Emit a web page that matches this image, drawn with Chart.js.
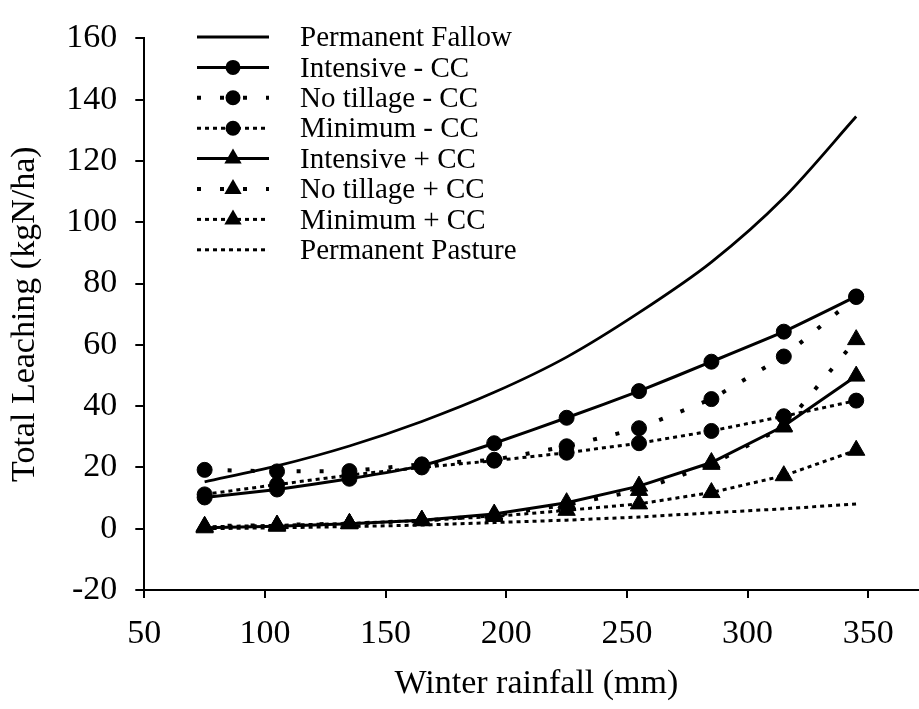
<!DOCTYPE html>
<html>
<head>
<meta charset="utf-8">
<script src="https://cdn.jsdelivr.net/npm/chart.js@4/dist/chart.umd.min.js"></script>
<style>
  html, body { margin: 0; padding: 0; background: #fff; overflow: hidden; }
  #wrap { width: 940px; height: 709px; }
</style>
</head>
<body>
<div id="wrap"><canvas id="chart" width="940" height="709"></canvas></div>
<script>
const rainfall = [75, 105, 135, 165, 195, 225, 255, 285, 315, 345];

const permanentFallow   = [15.3, 20.5, 27.0, 35.0, 44.5, 56.0, 70.5, 87.0, 108.0, 134.5];
const intensiveNoCC     = [10.2, 12.8, 16.3, 20.6, 27.9, 36.2, 44.9, 54.5, 64.3, 75.8];
const noTillageNoCC     = [19.2, 18.7, 18.8, 21.0, 22.5, 26.9, 32.8, 42.3, 56.2, 75.6];
const minimumNoCC       = [11.2, 14.4, 17.5, 20.0, 22.2, 24.8, 27.9, 31.9, 36.7, 41.8];
const intensiveCC       = [0.3, 0.8, 1.6, 2.8, 4.8, 8.5, 13.9, 21.6, 33.5, 49.8];
const noTillageCC       = [0.8, 1.2, 1.7, 2.6, 4.4, 7.8, 12.5, 21.0, 33.2, 61.7];
const minimumCC         = [0.6, 1.1, 1.7, 2.7, 4.0, 6.0, 8.1, 11.8, 17.3, 25.6];
const permanentPasture  = [0.0, 0.3, 0.7, 1.2, 2.0, 2.8, 3.8, 5.2, 6.5, 8.1];

const xTicks = { min: 50, max: 375, step: 50 };
const yTicks = { min: -20, max: 160, step: 20 };

const serif = '"Liberation Serif", "Times New Roman", serif';

function pts(values) {
  return rainfall.map((x, i) => ({ x, y: values[i] }));
}

function series(label, values, dash, marker, width, tension) {
  return {
    label,
    data: pts(values),
    borderColor: '#000',
    backgroundColor: '#000',
    borderWidth: width,
    borderDash: dash,
    pointStyle: marker || 'circle',
    pointRadius: marker ? (marker === 'triangle' ? 10 : 7.5) : 0,
    pointHoverRadius: marker ? (marker === 'triangle' ? 10 : 7.5) : 0,
    pointBorderWidth: 1,
    tension: tension || 0
  };
}

const dotted = [4, 4];
const sparse = [4, 19];

const datasets = [
  series('Permanent Fallow', permanentFallow, [], null, 2.8, 0.3),
  series('Intensive - CC', intensiveNoCC, [], 'circle', 3, 0.15),
  series('No tillage - CC', noTillageNoCC, sparse, 'circle', 4, 0),
  series('Minimum - CC', minimumNoCC, dotted, 'circle', 3, 0),
  series('Intensive + CC', intensiveCC, [], 'triangle', 3, 0),
  series('No tillage + CC', noTillageCC, sparse, 'triangle', 4, 0),
  series('Minimum + CC', minimumCC, dotted, 'triangle', 3, 0),
  series('Permanent Pasture', permanentPasture, dotted, null, 3, 0)
];

// legend with the line sample and the marker in its middle, like the spreadsheet one
const legendRows = {
  id: 'legendRows',
  afterDraw(chart) {
    const ctx = chart.ctx;
    ctx.save();
    chart.data.datasets.forEach((ds, i) => {
      const y = 37 + i * 30.4;
      ctx.strokeStyle = '#000';
      ctx.fillStyle = '#000';
      ctx.lineWidth = ds.borderWidth;
      ctx.setLineDash(ds.borderDash);
      ctx.beginPath();
      ctx.moveTo(197, y);
      ctx.lineTo(269, y);
      ctx.stroke();
      ctx.setLineDash([]);
      const cx = 233;
      if (ds.pointRadius > 0) {
        ctx.beginPath();
        if (ds.pointStyle === 'triangle') {
          const r = ds.pointRadius;
          for (let k = 0; k < 3; k++) {
            const a = k * 2 * Math.PI / 3;
            const px = cx + Math.sin(a) * r;
            const py = y - Math.cos(a) * r;
            if (k === 0) ctx.moveTo(px, py); else ctx.lineTo(px, py);
          }
          ctx.closePath();
        } else {
          ctx.arc(cx, y, ds.pointRadius, 0, Math.PI * 2);
        }
        ctx.fill();
      }
      ctx.font = '29px ' + serif;
      ctx.textBaseline = 'middle';
      ctx.textAlign = 'left';
      ctx.fillText(ds.label, 300, y + 1.5);
    });
    ctx.restore();
  }
};

new Chart(document.getElementById('chart'), {
  type: 'line',
  data: { datasets },
  plugins: [legendRows],
  options: {
    responsive: false,
    animation: false,
    layout: { padding: { top: 24.6, right: 11.4, bottom: 0, left: 0 } },
    plugins: {
      legend: { display: false },
      tooltip: { enabled: false }
    },
    scales: {
      x: {
        type: 'linear',
        min: xTicks.min,
        max: xTicks.max,
        afterFit(scale) { scale.height = 119; },
        border: { display: true, color: '#000', width: 2 },
        grid: { drawOnChartArea: false, color: '#000', lineWidth: 2, tickLength: 8 },
        ticks: {
          stepSize: xTicks.step,
          includeBounds: false,
          maxRotation: 0,
          padding: 16,
          color: '#000',
          font: { family: serif, size: 34 }
        },
        title: {
          display: true,
          text: 'Winter rainfall (mm)',
          color: '#000',
          font: { family: serif, size: 34 },
          padding: { top: 0, bottom: 5 }
        }
      },
      y: {
        min: yTicks.min,
        max: yTicks.max,
        afterFit(scale) { scale.width = 144.3; },
        border: { display: true, color: '#000', width: 2 },
        grid: { drawOnChartArea: false, color: '#000', lineWidth: 2, tickLength: 9 },
        ticks: {
          stepSize: yTicks.step,
          padding: 18,
          color: '#000',
          font: { family: serif, size: 34 }
        },
        title: {
          display: true,
          text: 'Total Leaching (kgN/ha)',
          color: '#000',
          font: { family: serif, size: 34 },
          padding: { top: 5, bottom: 0 }
        }
      }
    }
  }
});
</script>
</body>
</html>
